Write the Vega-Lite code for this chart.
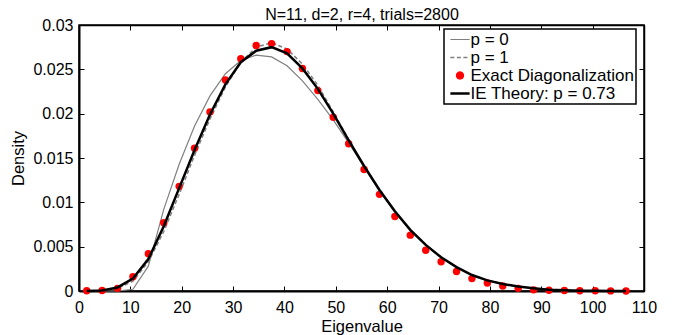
{
  "$schema": "https://vega.github.io/schema/vega-lite/v6.json",
  "width": 565,
  "height": 266,
  "autosize": {"type": "none"},
  "padding": {"left": 79, "top": 25, "right": 39, "bottom": 44},
  "background": "white",
  "config": {"view": {"stroke": "black", "strokeWidth": 1.5}, "font": "Liberation Sans"},
  "datasets": {
    "d": [
      {"series": "p = 0", "x": 1.5, "y": 0}, {"series": "p = 0", "x": 4.5, "y": 0}, {"series": "p = 0", "x": 7.5, "y": 0}, {"series": "p = 0", "x": 10.5, "y": 0.0002}, {"series": "p = 0", "x": 13.5, "y": 0.0028}, {"series": "p = 0", "x": 16.5, "y": 0.0092}, {"series": "p = 0", "x": 19.5, "y": 0.0143}, {"series": "p = 0", "x": 22.5, "y": 0.0186}, {"series": "p = 0", "x": 25.5, "y": 0.022}, {"series": "p = 0", "x": 28.5, "y": 0.0245}, {"series": "p = 0", "x": 31.5, "y": 0.026}, {"series": "p = 0", "x": 34.5, "y": 0.0266}, {"series": "p = 0", "x": 37.5, "y": 0.0264}, {"series": "p = 0", "x": 40.5, "y": 0.0254}, {"series": "p = 0", "x": 43.5, "y": 0.0237}, {"series": "p = 0", "x": 46.5, "y": 0.0216}, {"series": "p = 0", "x": 49.5, "y": 0.0193}, {"series": "p = 0", "x": 52.5, "y": 0.0167}, {"series": "p = 0", "x": 55.5, "y": 0.014}, {"series": "p = 0", "x": 58.5, "y": 0.0113}, {"series": "p = 0", "x": 61.5, "y": 0.0089}, {"series": "p = 0", "x": 64.5, "y": 0.0068}, {"series": "p = 0", "x": 67.5, "y": 0.0052}, {"series": "p = 0", "x": 70.5, "y": 0.0038}, {"series": "p = 0", "x": 73.5, "y": 0.0027}, {"series": "p = 0", "x": 76.5, "y": 0.0018}, {"series": "p = 0", "x": 79.5, "y": 0.0012}, {"series": "p = 0", "x": 82.5, "y": 0.0008}, {"series": "p = 0", "x": 85.5, "y": 0.0005}, {"series": "p = 0", "x": 88.5, "y": 0.0003}, {"series": "p = 0", "x": 91.5, "y": 0.00015}, {"series": "p = 0", "x": 94.5, "y": 0.00008}, {"series": "p = 0", "x": 97.5, "y": 0.00004}, {"series": "p = 0", "x": 100.5, "y": 0.00002}, {"series": "p = 0", "x": 103.5, "y": 0.00001}, {"series": "p = 0", "x": 106.5, "y": 0},
      {"series": "p = 1", "x": 1.5, "y": 0}, {"series": "p = 1", "x": 4.5, "y": 0.00005}, {"series": "p = 1", "x": 7.5, "y": 0.0003}, {"series": "p = 1", "x": 10.5, "y": 0.0011}, {"series": "p = 1", "x": 13.5, "y": 0.0033}, {"series": "p = 1", "x": 16.5, "y": 0.0067}, {"series": "p = 1", "x": 19.5, "y": 0.0109}, {"series": "p = 1", "x": 22.5, "y": 0.0153}, {"series": "p = 1", "x": 25.5, "y": 0.0194}, {"series": "p = 1", "x": 28.5, "y": 0.023}, {"series": "p = 1", "x": 31.5, "y": 0.0258}, {"series": "p = 1", "x": 34.5, "y": 0.0275}, {"series": "p = 1", "x": 37.5, "y": 0.028}, {"series": "p = 1", "x": 40.5, "y": 0.0273}, {"series": "p = 1", "x": 43.5, "y": 0.0256}, {"series": "p = 1", "x": 46.5, "y": 0.0232}, {"series": "p = 1", "x": 49.5, "y": 0.0202}, {"series": "p = 1", "x": 52.5, "y": 0.0171}, {"series": "p = 1", "x": 55.5, "y": 0.0141}, {"series": "p = 1", "x": 58.5, "y": 0.0114}, {"series": "p = 1", "x": 61.5, "y": 0.009}, {"series": "p = 1", "x": 64.5, "y": 0.0069}, {"series": "p = 1", "x": 67.5, "y": 0.0052}, {"series": "p = 1", "x": 70.5, "y": 0.0038}, {"series": "p = 1", "x": 73.5, "y": 0.0027}, {"series": "p = 1", "x": 76.5, "y": 0.0018}, {"series": "p = 1", "x": 79.5, "y": 0.0012}, {"series": "p = 1", "x": 82.5, "y": 0.0008}, {"series": "p = 1", "x": 85.5, "y": 0.0005}, {"series": "p = 1", "x": 88.5, "y": 0.0003}, {"series": "p = 1", "x": 91.5, "y": 0.00015}, {"series": "p = 1", "x": 94.5, "y": 0.00008}, {"series": "p = 1", "x": 97.5, "y": 0.00004}, {"series": "p = 1", "x": 100.5, "y": 0.00002}, {"series": "p = 1", "x": 103.5, "y": 0.00001}, {"series": "p = 1", "x": 106.5, "y": 0},
      {"series": "Exact Diagonalization", "x": 1.5, "y": 0.00002}, {"series": "Exact Diagonalization", "x": 4.5, "y": 0.00005}, {"series": "Exact Diagonalization", "x": 7.5, "y": 0.0003}, {"series": "Exact Diagonalization", "x": 10.5, "y": 0.0016}, {"series": "Exact Diagonalization", "x": 13.5, "y": 0.0042}, {"series": "Exact Diagonalization", "x": 16.5, "y": 0.0077}, {"series": "Exact Diagonalization", "x": 19.5, "y": 0.0118}, {"series": "Exact Diagonalization", "x": 22.5, "y": 0.0161}, {"series": "Exact Diagonalization", "x": 25.5, "y": 0.0202}, {"series": "Exact Diagonalization", "x": 28.5, "y": 0.0238}, {"series": "Exact Diagonalization", "x": 31.5, "y": 0.0262}, {"series": "Exact Diagonalization", "x": 34.5, "y": 0.0277}, {"series": "Exact Diagonalization", "x": 37.5, "y": 0.0279}, {"series": "Exact Diagonalization", "x": 40.5, "y": 0.027}, {"series": "Exact Diagonalization", "x": 43.5, "y": 0.0251}, {"series": "Exact Diagonalization", "x": 46.5, "y": 0.0226}, {"series": "Exact Diagonalization", "x": 49.5, "y": 0.0196}, {"series": "Exact Diagonalization", "x": 52.5, "y": 0.0166}, {"series": "Exact Diagonalization", "x": 55.5, "y": 0.0137}, {"series": "Exact Diagonalization", "x": 58.5, "y": 0.0109}, {"series": "Exact Diagonalization", "x": 61.5, "y": 0.0084}, {"series": "Exact Diagonalization", "x": 64.5, "y": 0.0063}, {"series": "Exact Diagonalization", "x": 67.5, "y": 0.0046}, {"series": "Exact Diagonalization", "x": 70.5, "y": 0.0033}, {"series": "Exact Diagonalization", "x": 73.5, "y": 0.0022}, {"series": "Exact Diagonalization", "x": 76.5, "y": 0.0014}, {"series": "Exact Diagonalization", "x": 79.5, "y": 0.0009}, {"series": "Exact Diagonalization", "x": 82.5, "y": 0.00057}, {"series": "Exact Diagonalization", "x": 85.5, "y": 0.0003}, {"series": "Exact Diagonalization", "x": 88.5, "y": 0.00013}, {"series": "Exact Diagonalization", "x": 91.5, "y": 0.00008}, {"series": "Exact Diagonalization", "x": 94.5, "y": 0.00005}, {"series": "Exact Diagonalization", "x": 97.5, "y": 0.00003}, {"series": "Exact Diagonalization", "x": 100.5, "y": 0.00002}, {"series": "Exact Diagonalization", "x": 103.5, "y": 0.00001}, {"series": "Exact Diagonalization", "x": 106.5, "y": 0},
      {"series": "IE Theory: p = 0.73", "x": 1.5, "y": 0}, {"series": "IE Theory: p = 0.73", "x": 4.5, "y": 0.00005}, {"series": "IE Theory: p = 0.73", "x": 7.5, "y": 0.0004}, {"series": "IE Theory: p = 0.73", "x": 10.5, "y": 0.0014}, {"series": "IE Theory: p = 0.73", "x": 13.5, "y": 0.0036}, {"series": "IE Theory: p = 0.73", "x": 16.5, "y": 0.0073}, {"series": "IE Theory: p = 0.73", "x": 19.5, "y": 0.0116}, {"series": "IE Theory: p = 0.73", "x": 22.5, "y": 0.0159}, {"series": "IE Theory: p = 0.73", "x": 25.5, "y": 0.0199}, {"series": "IE Theory: p = 0.73", "x": 28.5, "y": 0.0233}, {"series": "IE Theory: p = 0.73", "x": 31.5, "y": 0.0258}, {"series": "IE Theory: p = 0.73", "x": 34.5, "y": 0.0271}, {"series": "IE Theory: p = 0.73", "x": 37.5, "y": 0.0275}, {"series": "IE Theory: p = 0.73", "x": 40.5, "y": 0.0268}, {"series": "IE Theory: p = 0.73", "x": 43.5, "y": 0.0251}, {"series": "IE Theory: p = 0.73", "x": 46.5, "y": 0.0228}, {"series": "IE Theory: p = 0.73", "x": 49.5, "y": 0.02}, {"series": "IE Theory: p = 0.73", "x": 52.5, "y": 0.017}, {"series": "IE Theory: p = 0.73", "x": 55.5, "y": 0.0141}, {"series": "IE Theory: p = 0.73", "x": 58.5, "y": 0.0114}, {"series": "IE Theory: p = 0.73", "x": 61.5, "y": 0.009}, {"series": "IE Theory: p = 0.73", "x": 64.5, "y": 0.0069}, {"series": "IE Theory: p = 0.73", "x": 67.5, "y": 0.0052}, {"series": "IE Theory: p = 0.73", "x": 70.5, "y": 0.0038}, {"series": "IE Theory: p = 0.73", "x": 73.5, "y": 0.0027}, {"series": "IE Theory: p = 0.73", "x": 76.5, "y": 0.0018}, {"series": "IE Theory: p = 0.73", "x": 79.5, "y": 0.0012}, {"series": "IE Theory: p = 0.73", "x": 82.5, "y": 0.0008}, {"series": "IE Theory: p = 0.73", "x": 85.5, "y": 0.0005}, {"series": "IE Theory: p = 0.73", "x": 88.5, "y": 0.0003}, {"series": "IE Theory: p = 0.73", "x": 91.5, "y": 0.00015}, {"series": "IE Theory: p = 0.73", "x": 94.5, "y": 0.00008}, {"series": "IE Theory: p = 0.73", "x": 97.5, "y": 0.00004}, {"series": "IE Theory: p = 0.73", "x": 100.5, "y": 0.00002}, {"series": "IE Theory: p = 0.73", "x": 103.5, "y": 0.00001}, {"series": "IE Theory: p = 0.73", "x": 106.5, "y": 0}
    ]
  },
  "data": {"name": "d"},
  "encoding": {
    "x": {"field": "x", "type": "quantitative", "scale": {"domain": [0, 110], "nice": false, "zero": false}, "axis": null},
    "y": {"field": "y", "type": "quantitative", "scale": {"domain": [0, 0.03], "nice": false}, "axis": null},
    "color": {
      "field": "series", "type": "nominal", "sort": null,
      "scale": {"domain": ["p = 0", "p = 1", "Exact Diagonalization", "IE Theory: p = 0.73"], "range": ["#808080", "#808080", "#ff0000", "#000000"]},
      "legend": {
        "orient": "none", "legendX": 365, "legendY": 4, "direction": "vertical", "title": null,
        "strokeColor": "black", "fillColor": "white", "padding": 2, "rowPadding": 0,
        "labelFontSize": 17, "labelFont": "Liberation Sans", "labelColor": "black", "labelLimit": 0,
        "symbolSize": 50, "symbolOffset": 5.5, "labelOffset": 2,
        "encode": {
          "legend": {"update": {"strokeWidth": {"value": 1.5}}},
          "symbols": {"update": {
            "shape": {"signal": "datum.value === 'Exact Diagonalization' ? 'circle' : 'M-2.72,0L2.72,0'"},
            "stroke": {"signal": "datum.value === 'Exact Diagonalization' ? 'transparent' : (datum.value === 'IE Theory: p = 0.73' ? '#000000' : '#808080')"},
            "fill": {"signal": "datum.value === 'Exact Diagonalization' ? '#ff0000' : 'transparent'"},
            "strokeWidth": {"signal": "datum.value === 'IE Theory: p = 0.73' ? 2.5 : (datum.value === 'p = 1' ? 1.5 : 1.2)"},
            "strokeDash": {"signal": "datum.value === 'p = 1' ? [4, 2.5] : [1, 0]"},
            "opacity": {"value": 1},
            "fillOpacity": {"value": 1},
            "strokeOpacity": {"value": 1}
          }}
        }
      }
    }
  },
  "layer": [
    {
      "transform": [{"filter": "datum.series === 'p = 0'"}],
      "mark": {"type": "line", "strokeWidth": 1.2},
      "encoding": {
        "x": {"field": "x", "type": "quantitative", "axis": {"orient": "bottom", "values": [0, 10, 20, 30, 40, 50, 60, 70, 80, 90, 100, 110], "tickSize": -5, "tickColor": "black", "tickWidth": 1, "domainColor": "black", "domainWidth": 2, "labelFontSize": 16, "labelFont": "Liberation Sans", "labelColor": "black", "labelPadding": 13, "labelFlush": false, "labelOverlap": false, "grid": false, "title": "Eigenvalue", "titleFontSize": 16.5, "titleFont": "Liberation Sans", "titleFontWeight": "normal", "titleColor": "black", "titlePadding": 3}},
        "y": {"field": "y", "type": "quantitative", "axis": {"orient": "left", "values": [0, 0.005, 0.01, 0.015, 0.02, 0.025, 0.03], "format": "~g", "tickSize": -5, "tickColor": "black", "tickWidth": 1, "domainColor": "black", "domainWidth": 2, "labelFontSize": 16, "labelFont": "Liberation Sans", "labelColor": "black", "labelPadding": 11, "labelFlush": false, "labelOverlap": false, "grid": false, "title": "Density", "titleFontSize": 16.5, "titleFont": "Liberation Sans", "titleFontWeight": "normal", "titleColor": "black", "titlePadding": 6}}
      }
    },
    {
      "transform": [{"filter": "datum.series === 'p = 1'"}],
      "mark": {"type": "line", "strokeWidth": 1.5, "strokeDash": [4, 2.5]}
    },
    {
      "transform": [{"filter": "datum.series === 'Exact Diagonalization'"}],
      "mark": {"type": "point", "filled": true, "shape": "circle", "size": 55, "opacity": 1}
    },
    {
      "transform": [{"filter": "datum.series === 'IE Theory: p = 0.73'"}],
      "mark": {"type": "line", "strokeWidth": 2.5}
    },
    {
      "transform": [{"filter": "datum.series === 'p = 0'"}],
      "mark": {"type": "point", "size": 0, "opacity": 0},
      "encoding": {
        "color": {"value": "transparent"},
        "x": {"field": "x", "type": "quantitative", "axis": {"orient": "top", "values": [0, 10, 20, 30, 40, 50, 60, 70, 80, 90, 100, 110], "labels": false, "title": "N=11, d=2, r=4, trials=2800", "titleFontSize": 16, "titleFont": "Liberation Sans", "titleFontWeight": "normal", "titleColor": "black", "titlePadding": 2, "tickSize": -5, "tickColor": "black", "tickWidth": 1, "domainColor": "black", "domainWidth": 1.5, "grid": false}},
        "y": {"field": "y", "type": "quantitative", "axis": {"orient": "right", "values": [0, 0.005, 0.01, 0.015, 0.02, 0.025, 0.03], "labels": false, "title": null, "tickSize": -5, "tickColor": "black", "tickWidth": 1, "domainColor": "black", "domainWidth": 1.5, "grid": false}}
      }
    }
  ],
  "resolve": {"axis": {"x": "independent", "y": "independent"}}
}
